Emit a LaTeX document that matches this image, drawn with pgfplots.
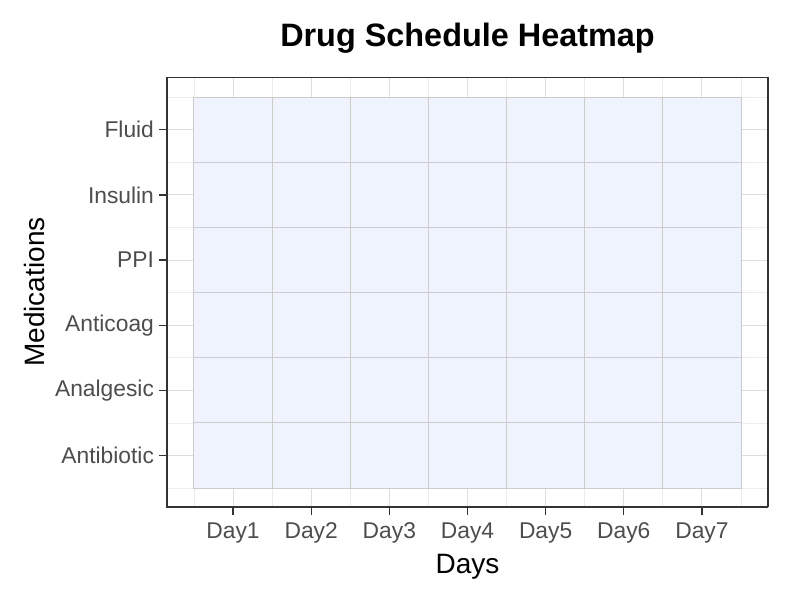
\documentclass[border=0pt]{standalone}
\usepackage{pgfplots}
\pgfplotsset{compat=1.18}
\usepackage{fontspec}
\setmainfont{Liberation Sans}
\definecolor{tilefill}{RGB}{238,243,254}
\definecolor{tileedge}{RGB}{204,204,204}
\definecolor{gridmaj}{RGB}{222,222,222}
\definecolor{gridmin}{RGB}{236,236,236}
\definecolor{axcol}{RGB}{51,51,51}
\definecolor{ticklab}{RGB}{77,77,77}
\begin{document}
\begin{tikzpicture}
\begin{axis}[
  scale only axis,
  width=300.5pt, height=215pt,
  xmin=0.155, xmax=7.845, ymin=0.21, ymax=6.81,
  xtick={1,2,3,4,5,6,7},
  xticklabels={Day1,Day2,Day3,Day4,Day5,Day6,Day7},
  ytick={1,2,3,4,5,6},
  yticklabels={Antibiotic,Analgesic,Anticoag,PPI,Insulin,Fluid},
  minor xtick={0.5,1.5,2.5,3.5,4.5,5.5,6.5,7.5},
  minor ytick={0.5,1.5,2.5,3.5,4.5,5.5,6.5},
  grid=both,
  major grid style={draw=gridmaj, line width=0.5pt},
  minor grid style={draw=gridmin, line width=0.4pt},
  xtick pos=bottom, ytick pos=left,
  tick align=outside,
  major tick length=4pt, minor tick length=0pt,
  tick style={draw=axcol, line width=0.65pt},
  axis line style={draw=none},
  ticklabel style={font=\fontsize{11.4}{13}\selectfont, text=ticklab},
  xticklabel style={anchor=base, yshift=-12pt},
  yticklabel style={anchor=east, xshift=1pt},
  xlabel={Days},
  ylabel={Medications},
  label style={font=\fontsize{14}{16}\selectfont, text=black},
  xlabel style={at={(axis description cs:0.5,0)}, anchor=base, yshift=-33.5pt},
  ylabel style={at={(axis description cs:-0.2213,0.5)}, anchor=center, rotate=0},
  title={Drug Schedule Heatmap},
  title style={at={(axis description cs:0.5,1)}, anchor=base, yshift=9.5pt, font=\bfseries\fontsize{16.2}{18}\selectfont},
  colormap={tiles}{color(0)=(tilefill) color(1)=(tilefill)},
  point meta min=0, point meta max=1,
  clip=false,
]
\addplot[matrix plot*, shader=faceted, faceted color=tileedge, line width=0.5pt, mesh/cols=7, point meta=explicit] table[meta=z] {
x y z
1 1 1
2 1 1
3 1 1
4 1 1
5 1 1
6 1 1
7 1 1
1 2 1
2 2 1
3 2 1
4 2 1
5 2 1
6 2 1
7 2 1
1 3 1
2 3 1
3 3 1
4 3 1
5 3 1
6 3 1
7 3 1
1 4 1
2 4 1
3 4 1
4 4 1
5 4 1
6 4 1
7 4 1
1 5 1
2 5 1
3 5 1
4 5 1
5 5 1
6 5 1
7 5 1
1 6 1
2 6 1
3 6 1
4 6 1
5 6 1
6 6 1
7 6 1
};
\draw[draw=axcol, line width=0.5pt] (rel axis cs:0,1) -- (rel axis cs:1,1);
\draw[draw=axcol, line width=0.75pt] (rel axis cs:0,1) -- (rel axis cs:0,0) -- (rel axis cs:1,0);
\draw[draw=axcol, line width=1pt] (rel axis cs:1,0) -- (rel axis cs:1,1);
\end{axis}
\path[use as bounding box] (-83.5pt,-46.5pt) rectangle (316.5pt,253.5pt);
\end{tikzpicture}
\end{document}
